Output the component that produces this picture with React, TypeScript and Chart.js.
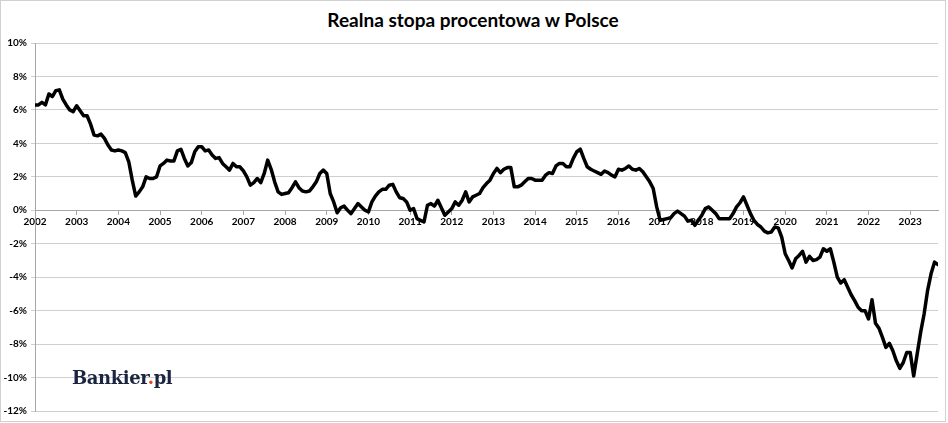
import React, { useEffect, useRef } from "react";
import { Chart, registerables } from "chart.js";

Chart.register(...registerables);

const yearLabels = [
  "2002", "2003", "2004", "2005", "2006", "2007", "2008", "2009", "2010", "2011", "2012",
  "2013", "2014", "2015", "2016", "2017", "2018", "2019", "2020", "2021", "2022", "2023",
];

const y2002 = [6.3, 6.3, 6.45, 6.3, 6.95, 6.8, 7.15, 7.2, 6.65, 6.3, 6.0, 5.9];
const y2003 = [6.25, 5.95, 5.65, 5.65, 5.15, 4.5, 4.45, 4.55, 4.3, 3.9, 3.6, 3.55];
const y2004 = [3.6, 3.55, 3.45, 2.9, 1.8, 0.85, 1.1, 1.4, 2.0, 1.9, 1.9, 2.0];
const y2005 = [2.65, 2.8, 3.0, 2.95, 2.95, 3.55, 3.65, 3.1, 2.65, 2.85, 3.5, 3.8];
const y2006 = [3.8, 3.55, 3.6, 3.3, 3.1, 3.15, 2.8, 2.6, 2.4, 2.8, 2.6, 2.6];
const y2007 = [2.35, 2.0, 1.5, 1.65, 1.9, 1.65, 2.2, 3.0, 2.45, 1.7, 1.1, 0.95];
const y2008 = [1.0, 1.05, 1.35, 1.7, 1.35, 1.15, 1.1, 1.15, 1.4, 1.7, 2.2, 2.4];
const y2009 = [2.2, 1.0, 0.5, -0.15, 0.15, 0.25, 0.0, -0.2, 0.1, 0.4, 0.2, 0.0];
const y2010 = [-0.1, 0.5, 0.85, 1.1, 1.25, 1.25, 1.5, 1.55, 1.1, 0.75, 0.7, 0.5];
const y2011 = [0.0, 0.1, -0.5, -0.6, -0.7, 0.3, 0.4, 0.25, 0.6, 0.15, -0.3, -0.1];
const y2012 = [0.1, 0.5, 0.3, 0.6, 1.1, 0.5, 0.8, 0.9, 1.0, 1.35, 1.6, 1.8];
const y2013 = [2.2, 2.5, 2.25, 2.45, 2.55, 2.55, 1.4, 1.4, 1.5, 1.7, 1.9, 1.9];
const y2014 = [1.8, 1.8, 1.8, 2.1, 2.25, 2.2, 2.65, 2.8, 2.8, 2.6, 2.6, 3.1];
const y2015 = [3.5, 3.65, 3.1, 2.6, 2.45, 2.35, 2.25, 2.15, 2.35, 2.25, 2.1, 2.0];
const y2016 = [2.45, 2.4, 2.5, 2.65, 2.45, 2.4, 2.5, 2.3, 2.0, 1.7, 1.3, 0.2];
const y2017 = [-0.6, -0.55, -0.5, -0.45, -0.2, -0.05, -0.2, -0.35, -0.65, -0.6, -0.9, -0.6];
const y2018 = [-0.3, 0.1, 0.2, 0.0, -0.2, -0.5, -0.5, -0.5, -0.5, -0.2, 0.2, 0.45];
const y2019 = [0.8, 0.3, -0.2, -0.6, -0.85, -1.0, -1.25, -1.35, -1.3, -1.0, -1.05, -1.6];
const y2020 = [-2.6, -3.0, -3.45, -2.9, -2.7, -2.45, -3.1, -2.75, -3.0, -2.95, -2.8, -2.3];
const y2021 = [-2.45, -2.3, -3.1, -4.0, -4.35, -4.15, -4.6, -5.05, -5.4, -5.8, -6.0, -6.0];
const y2022 = [-6.5, -5.35, -6.75, -7.05, -7.6, -8.2, -7.95, -8.4, -9.0, -9.45, -9.1, -8.5];
const y2023 = [-8.5, -9.9, -8.6, -7.3, -6.2, -4.8, -3.8, -3.1, -3.25];

const realRate = [
  ...y2002, ...y2003, ...y2004, ...y2005, ...y2006, ...y2007, ...y2008, ...y2009,
  ...y2010, ...y2011, ...y2012, ...y2013, ...y2014, ...y2015, ...y2016, ...y2017,
  ...y2018, ...y2019, ...y2020, ...y2021, ...y2022, ...y2023,
];

const yTicks = [10, 8, 6, 4, 2, 0, -2, -4, -6, -8, -10, -12];

export default function App() {
  const canvasRef = useRef<HTMLCanvasElement | null>(null);

  useEffect(() => {
    document.body.style.margin = "0";
    const canvas = canvasRef.current;
    if (!canvas) return;
    const gridColor = "#cfcfcf";
    const tickFont = { family: "Lato, 'Open Sans', sans-serif", size: 10, weight: "bold" as const };
    const chart = new Chart(canvas, {
      type: "line",
      data: {
        datasets: [
          {
            data: realRate.map((v, i) => ({ x: i, y: v })),
            borderColor: "#000000",
            borderWidth: 3.5,
            pointRadius: 0,
            tension: 0,
            borderJoinStyle: "round",
            borderCapStyle: "round",
            fill: false,
          },
        ],
      },
      options: {
        animation: false,
        responsive: false,
        devicePixelRatio: 1,
        layout: { padding: { top: 43, right: 10, bottom: 12, left: 0 } },
        plugins: {
          legend: { display: false },
          title: { display: false },
          tooltip: { enabled: false },
        },
        scales: {
          x: {
            type: "linear",
            min: 0,
            max: realRate.length - 1,
            position: { y: 0 } as any,
            afterBuildTicks: (scale: any) => {
              scale.ticks = yearLabels.map((_, i) => ({ value: i * 12 }));
            },
            ticks: {
              autoSkip: false,
              maxRotation: 0,
              padding: 2,
              color: "#000000",
              font: tickFont,
              callback: (value: any) => yearLabels[Math.round(Number(value) / 12)],
            },
            grid: {
              display: true,
              drawOnChartArea: false,
              drawTicks: true,
              tickLength: 4,
              color: "#a6a6a6",
            },
            border: { display: true, color: "#a6a6a6", width: 1 },
          },
          y: {
            min: -12,
            max: 10,
            afterBuildTicks: (scale: any) => {
              scale.ticks = yTicks.map((v) => ({ value: v }));
            },
            afterFit: (scale: any) => {
              scale.width = 35;
            },
            ticks: {
              padding: 4,
              color: "#000000",
              font: tickFont,
              callback: (value: any) => `${value}%`,
            },
            grid: {
              color: gridColor,
              lineWidth: 1,
              tickLength: 4,
              drawTicks: true,
            },
            border: { display: true, color: "#a6a6a6", width: 1 },
          },
        },
      },
    });
    return () => chart.destroy();
  }, []);

  return (
    <div
      style={{
        position: "relative",
        width: 948,
        height: 423,
        background: "#ffffff",
        overflow: "hidden",
      }}
    >
      <div
        style={{
          position: "absolute",
          left: 0,
          top: 0,
          width: 946,
          height: 422,
          boxSizing: "border-box",
          border: "1px solid #d0d0d0",
          pointerEvents: "none",
        }}
      />
      <div
        style={{
          position: "absolute",
          left: 0,
          top: 7,
          width: 946,
          textAlign: "center",
          fontFamily: "Lato, 'Open Sans', sans-serif",
          fontWeight: 700,
          fontSize: 19,
          lineHeight: "26px",
          color: "#000000",
        }}
      >
        Realna stopa procentowa w Polsce
      </div>
      <canvas ref={canvasRef} width={948} height={423} style={{ position: "absolute", left: 0, top: 0 }} />
      <div
        style={{
          position: "absolute",
          left: 72,
          top: 366,
          fontFamily: "'DejaVu Serif', 'Liberation Serif', serif",
          fontWeight: 700,
          fontSize: 18,
          lineHeight: "24px",
          color: "#1b2440",
          letterSpacing: -0.4,
          whiteSpace: "nowrap",
        }}
      >
        Bankier<span style={{ color: "#e8472a" }}>.</span>pl
      </div>
    </div>
  );
}
